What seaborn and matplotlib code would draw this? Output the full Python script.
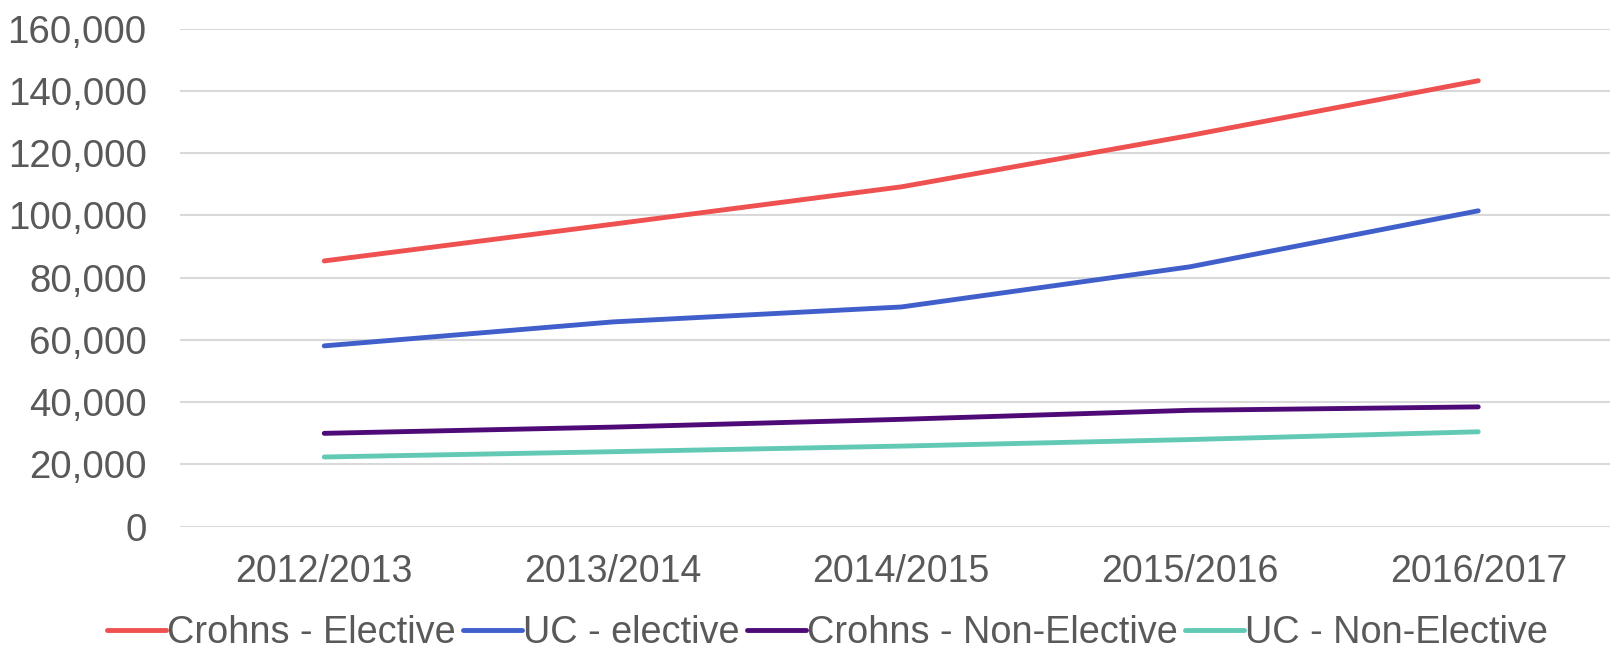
import matplotlib
matplotlib.use("Agg")
import matplotlib.pyplot as plt
import seaborn as sns
import pandas as pd
from matplotlib.ticker import FuncFormatter

years = ["2012/2013", "2013/2014", "2014/2015", "2015/2016", "2016/2017"]
crohns_elective = [85400, 97200, 109200, 125700, 143300]
uc_elective = [58100, 65800, 70600, 83500, 101500]
crohns_non_elective = [30000, 32000, 34500, 37400, 38500]
uc_non_elective = [22400, 24100, 25900, 28000, 30500]
series_names = ["Crohns - Elective", "UC - elective", "Crohns - Non-Elective", "UC - Non-Elective"]
colors = ["#EF5050", "#405FCB", "#4E0A76", "#62C9B5"]

rows = []
for name, vals in zip(series_names, [crohns_elective, uc_elective, crohns_non_elective, uc_non_elective]):
    for i, (y, v) in enumerate(zip(years, vals)):
        rows.append({"pos": i, "year": y, "value": v, "series": name})
df = pd.DataFrame(rows)

sns.set_style("white")
plt.rcParams["font.family"] = ["Liberation Sans", "DejaVu Sans"]

fig = plt.figure(figsize=(16.1, 6.53), dpi=100)
ax = fig.add_axes([180 / 1610, 126.3 / 653, 5 * 288.5 / 1610, (526.7 - 28.75) / 653])

sns.lineplot(data=df, x="pos", y="value", hue="series", hue_order=series_names,
             palette=colors, linewidth=3.5, ax=ax, legend=False,
             solid_capstyle="round")

ax.set_xlim(-0.5, 4.5)
ax.set_ylim(0, 160000)
ax.set_yticks(range(0, 160001, 20000))
ax.yaxis.set_major_formatter(FuncFormatter(lambda v, p: f"{int(v):,}"))
ax.set_xticks(range(len(years)))
ax.set_xticklabels(years)
ax.set_xlabel("")
ax.set_ylabel("")
ax.grid(axis="y", color="#D9D9D9", linewidth=1.5)
ax.set_axisbelow(True)
for s in ax.spines.values():
    s.set_visible(False)
ax.tick_params(axis="both", length=0, labelcolor="#595959")
ax.tick_params(axis="y", pad=24, labelsize=27.7)
ax.tick_params(axis="x", pad=20, labelsize=27)

handles = [plt.Line2D([], [], color=c, linewidth=3.5) for c in colors]
fig.legend(handles, series_names, loc="center", bbox_to_anchor=(0.514, 0.03),
           ncol=4, frameon=False, fontsize=27.3, handlelength=1.55,
           handletextpad=0.03, columnspacing=0.2, labelcolor="#595959",
           borderaxespad=0, borderpad=0)

fig.savefig("out.png", dpi=100)
